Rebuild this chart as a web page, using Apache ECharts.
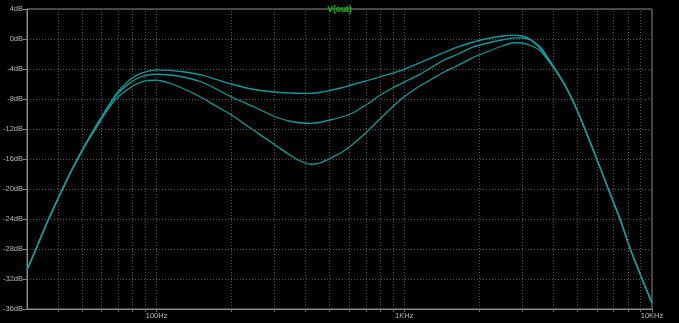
<!DOCTYPE html>
<html><head><meta charset="utf-8">
<script src="https://cdn.jsdelivr.net/npm/echarts@6/dist/echarts.min.js"></script>
<style>html,body{margin:0;padding:0;background:#000}#c{width:679px;height:323px}</style>
</head><body><div id="c"></div>
<script>
// frequency (Hz)
const freqs = [30,33,36,40,44,48,53,58,63,69,
  76,83,91,100,113,130,154,175,200,245,
  303,350,388,420,460,503,560,616,700,790,
  900,1000,1150,1300,1450,1650,1900,2200,2500,2750,
  3000,3250,3550,4000,4400,4850,5300,6000,6700,7450,
  8150,9100,10000];
// V(out) in dB, three traces
const vTop = [-30.8,-27.6,-24.6,-21.3,-18.4,-15.95,-13.35,-11.15,-9.25,-7.25,
  -5.75,-4.85,-4.35,-4.12,-4.17,-4.4,-4.85,-5.4,-6.0,-6.7,
  -7.1,-7.2,-7.25,-7.25,-7.1,-6.85,-6.5,-6.1,-5.6,-5.1,
  -4.55,-4.05,-3.2,-2.45,-1.8,-1.05,-0.4,0.1,0.4,0.53,
  0.4,-0.1,-1.1,-3.6,-5.8,-8.6,-11.6,-16.1,-20.2,-24.1,
  -27.9,-31.9,-35.2];
const vMid = [-30.8,-27.6,-24.6,-21.3,-18.4,-15.95,-13.4,-11.25,-9.35,-7.45,
  -6.15,-5.3,-4.85,-4.7,-4.8,-5.1,-5.8,-6.7,-7.7,-9.0,
  -10.4,-11.0,-11.2,-11.25,-11.1,-10.8,-10.4,-9.9,-8.8,-7.6,
  -6.5,-5.75,-4.75,-3.7,-2.8,-2.0,-1.05,-0.5,-0.1,0.15,
  0.15,-0.15,-1.3,-3.7,-5.85,-8.6,-11.6,-16.1,-20.2,-24.1,
  -27.9,-31.9,-35.2];
const vBot = [-30.8,-27.6,-24.6,-21.3,-18.45,-16.05,-13.55,-11.5,-9.6,-7.9,
  -6.8,-6.0,-5.55,-5.5,-5.9,-6.7,-7.9,-9.0,-10.1,-12.1,
  -14.2,-15.6,-16.4,-16.7,-16.5,-15.9,-15.1,-14.1,-12.5,-10.8,
  -9.0,-7.7,-6.3,-5.3,-4.4,-3.5,-2.45,-1.6,-0.9,-0.5,
  -0.55,-0.9,-1.6,-3.8,-5.9,-8.6,-11.6,-16.1,-20.2,-24.1,
  -27.9,-31.9,-35.2];
const xLabelValues = [100,1000,10000];
const xLabelText = {100:'100Hz',1000:'1KHz',10000:'10KHz'};
const gridFreqs = [40,50,60,70,80,90,100,200,300,400,500,600,700,800,900,
  1000,2000,3000,4000,5000,6000,7000,8000,9000];
const seriesNames = ['V(out) 1','V(out) 2','V(out) 3'];

const font = 'Liberation Sans';
const lineColor = '#109c9c';
const mk = (name, vals, i) => ({
  name, type:'line', showSymbol:false, smooth:0.15,
  data: freqs.map((f,k)=>[f, vals[k]]),
  lineStyle:{color:lineColor, width:1.3},
  itemStyle:{color:lineColor},
  silent:true, z: 3,
  markLine: i===0 ? {
    silent:true, symbol:['none','none'], label:{show:false},
    lineStyle:{color:'#5c5c5c', type:[1,2], width:1},
    animation:false,
    data: gridFreqs.map(f=>({xAxis:f}))
  } : undefined
});

const chart = echarts.init(document.getElementById('c'), null, {renderer:'canvas'});
chart.setOption({
  backgroundColor:'#000',
  animation:false,
  title:{text:'V(out)', left:'center', top:0,
    textStyle:{color:'#00c800', fontSize:8.5, fontWeight:'bold', fontFamily:font}},
  grid:{left:23, right:27, top:9, bottom:14, show:true, borderColor:'#8a8a8a', borderWidth:1, backgroundColor:'transparent'},
  xAxis:{type:'log', logBase:10, min:30, max:10000,
    axisLine:{show:true, onZero:false, lineStyle:{color:'#8a8a8a', width:1}},
    axisTick:{show:true, length:3, customValues: gridFreqs.concat([10000]), lineStyle:{color:'#6a6a6a'}},
    splitLine:{show:false}, minorTick:{show:false},
    axisLabel:{customValues: xLabelValues, formatter:v=>xLabelText[v]||'', color:'#b8b8b8',
      fontSize:7.5, fontFamily:font, margin:3}
  },
  yAxis:{type:'value', min:-36, max:4, interval:4,
    axisLine:{show:true, lineStyle:{color:'#8a8a8a', width:1}},
    axisTick:{show:true, length:4, lineStyle:{color:'#8a8a8a'}},
    splitLine:{show:true, lineStyle:{color:'#5c5c5c', type:[1,2], width:1}},
    axisLabel:{formatter:v=>v+'dB', color:'#b8b8b8', fontSize:7.5, fontFamily:font, margin:4}
  },
  series:[mk(seriesNames[0], vTop, 0), mk(seriesNames[1], vMid, 1), mk(seriesNames[2], vBot, 2)]
});
</script></body></html>
